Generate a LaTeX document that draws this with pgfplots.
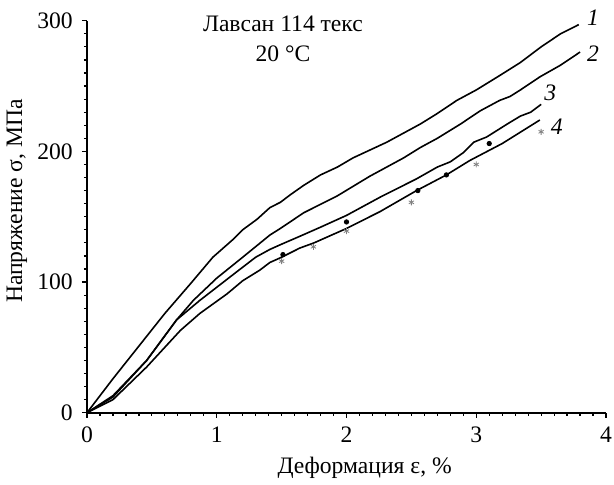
\documentclass[border=0pt]{standalone}
\usepackage{fontspec}
\setmainfont{Liberation Serif}
\usepackage{pgfplots}
\pgfplotsset{compat=1.18}

\begin{document}
\begin{tikzpicture}
\begin{axis}[
  scale only axis, width=259.5pt, height=196pt,
  xmin=0, xmax=4, ymin=0, ymax=300,
  axis lines=left, axis line style={-, line width=0.8pt},
  xtick={0,1,2,3,4}, ytick={0,100,200,300},
  minor x tick num=9, minor y tick num=9,
  tick align=outside, tick style={black, line width=0.6pt},
  major tick length=2.6pt, minor tick length=1.6pt,
  /pgf/number format/assume math mode=true,
  ticklabel style={font=\fontsize{11.8}{14}\selectfont},
  xticklabel style={yshift=-1pt},
  yticklabel style={xshift=-1pt},
  label style={font=\fontsize{11.8}{14}\selectfont},
  xlabel={Деформация ε, \%},
  ylabel={Напряжение σ, МПа},
  xlabel style={at={(axis description cs:0.535,-0.14)}, anchor=center},
  ylabel style={at={(axis description cs:-0.135,0.54)}, anchor=center, rotate=0},
  clip=false,
]
  % curve 1
  \addplot[black, line width=0.8pt] coordinates {
    (0,0) (0.2,26) (0.4,51) (0.6,76) (0.8,99) (0.97,119) (1.13,133) (1.2,140)
    (1.31,148) (1.41,157) (1.49,161) (1.57,167) (1.67,174) (1.8,182) (1.93,188)
    (2.05,195) (2.18,201) (2.31,207) (2.44,214) (2.57,221) (2.7,229) (2.85,239)
    (3.0,247) (3.18,258) (3.34,268) (3.5,280) (3.65,290) (3.79,297)};
  % curve 2
  \addplot[black, line width=0.8pt] coordinates {
    (0,0) (0.2,13) (0.46,40) (0.69,71) (0.82,86) (1.0,103) (1.2,119) (1.41,136)
    (1.49,141) (1.67,153) (1.93,166) (2.18,181) (2.44,195) (2.57,203) (2.7,210)
    (2.88,221) (3.03,231) (3.18,239) (3.26,242) (3.34,247) (3.49,257) (3.65,266)
    (3.8,276)};
  % curve 3
  \addplot[black, line width=0.8pt] coordinates {
    (0,0) (0.2,12) (0.46,40) (0.69,71) (0.87,86) (1.13,106) (1.3,119) (1.41,125)
    (1.5,129) (1.64,135) (1.8,142) (2.0,151) (2.26,165) (2.44,174) (2.54,179)
    (2.7,188) (2.8,192) (2.9,199) (2.98,207) (3.08,211) (3.24,221) (3.34,227)
    (3.42,230) (3.5,236)};
  % curve 4
  \addplot[black, line width=0.8pt] coordinates {
    (0,0) (0.2,10) (0.46,35) (0.72,63) (0.87,76) (1.08,91) (1.2,101) (1.33,109)
    (1.41,115) (1.5,119) (1.64,126) (1.75,130) (2.0,141) (2.26,154) (2.54,170)
    (2.77,182) (2.95,193) (3.2,206) (3.49,224)};
  % measured points
  \addplot[only marks, mark=*, mark size=1.1pt, black] coordinates {
    (1.51,121) (2.0,146) (2.55,170) (2.77,182) (3.1,206)};
  \addplot[only marks, mark=asterisk, mark size=1.5pt, gray, line width=0.4pt] coordinates {
    (1.5,116) (1.745,127) (2.0,139) (2.5,161) (3.0,190) (3.5,215)};
  % curve numbers
  \node[font=\fontsize{11.8}{14}\selectfont\itshape] at (axis cs:3.90,302) {1};
  \node[font=\fontsize{11.8}{14}\selectfont\itshape] at (axis cs:3.90,275) {2};
  \node[font=\fontsize{11.8}{14}\selectfont\itshape] at (axis cs:3.57,245) {3};
  \node[font=\fontsize{11.8}{14}\selectfont\itshape] at (axis cs:3.62,219) {4};
  \node[font=\fontsize{11.8}{15}\selectfont, align=center] at (axis cs:1.51,286.5)
    {Лавсан 114 текс\\20 °C};
\end{axis}
\pgfresetboundingbox
\path (-43.5pt,-35.65pt) rectangle (263.5pt,206.35pt);
\end{tikzpicture}
\end{document}
